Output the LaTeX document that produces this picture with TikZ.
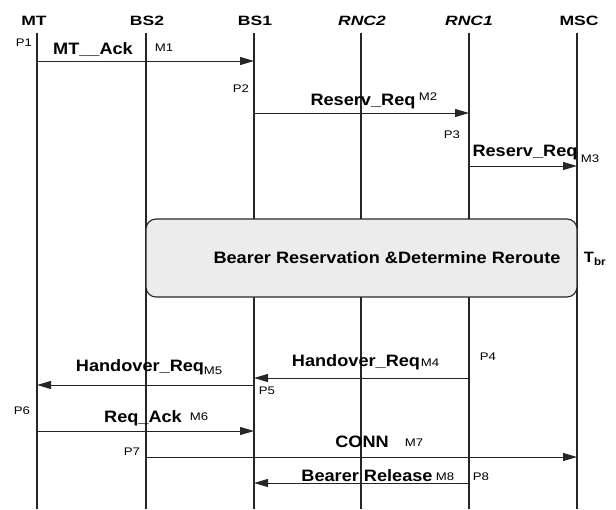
\documentclass[tikz,border=0pt]{standalone}
\usepackage{fontspec}
\setmainfont{Liberation Sans}
\newfontfamily\lblf{Liberation Sans}[FakeStretch=1.1]
\newfontfamily\hdrf{Liberation Sans}[FakeStretch=1.3]
\newfontfamily\smf{Liberation Sans}[FakeStretch=1.2]
\usetikzlibrary{arrows.meta}
\begin{document}
\begin{tikzpicture}[x=1pt,y=-1pt,
  hdr/.style={font=\hdrf\bfseries\fontsize{13.5}{15}\selectfont, inner sep=0pt},
  hdri/.style={font=\hdrf\bfseries\itshape\fontsize{13.5}{15}\selectfont, inner sep=0pt},
  lbl/.style={font=\lblf\bfseries\fontsize{16.5}{18}\selectfont, inner sep=0pt},
  sm/.style={font=\smf\fontsize{11}{13}\selectfont, inner sep=0pt},
  life/.style={line width=1.3pt, black!85},
  msg/.style={line width=1pt, black!85, -{Triangle[length=14pt,width=8pt]}},
  boxst/.style={draw=black!85, line width=1.1pt, fill=gray!15, rounded corners=10pt, inner sep=0pt}
]
\useasboundingbox (0,0) rectangle (616,509);
% headers
\node[hdr]  (hMT)   at (34,21)  {MT};
\node[hdr]  (hBS2)  at (147,21) {BS2};
\node[hdr]  (hBS1)  at (255,21) {BS1};
\node[hdri] (hRNC2) at (362,21) {RNC2};
\node[hdri] (hRNC1) at (469,21) {RNC1};
\node[hdr]  (hMSC)  at (579,21) {MSC};
% lifelines
\foreach \n/\x in {mt/37, bstwo/146, bsone/254, rnctwo/361, rncone/469, msc/577}{
  \coordinate (\n T) at (\x,33);
  \coordinate (\n B) at (\x,509);
  \draw[life] (\n T) -- (\n B);
}
% message end points
\coordinate (m1s) at (37,61);   \coordinate (m1e) at (254,61);
\coordinate (m2s) at (254,113); \coordinate (m2e) at (469,113);
\coordinate (m3s) at (469,166); \coordinate (m3e) at (577,166);
\coordinate (m4s) at (469,378); \coordinate (m4e) at (254,378);
\coordinate (m5s) at (254,385); \coordinate (m5e) at (37,385);
\coordinate (m6s) at (37,431);  \coordinate (m6e) at (254,431);
\coordinate (m7s) at (146,457); \coordinate (m7e) at (577,457);
\coordinate (m8s) at (469,483); \coordinate (m8e) at (254,483);
\draw[msg] (m1s) -- (m1e);
\draw[msg] (m2s) -- (m2e);
\draw[msg] (m3s) -- (m3e);
\draw[msg] (m4s) -- (m4e);
\draw[msg] (m5s) -- (m5e);
\draw[msg] (m6s) -- (m6e);
\draw[msg] (m7s) -- (m7e);
\draw[msg] (m8s) -- (m8e);
% process box
\node[boxst, minimum width=431pt, minimum height=78pt] (brbox) at (361.5,258) {};
\node[lbl] (brtext) at (387,258) {Bearer Reservation \&Determine Reroute};
\node[inner sep=0pt, font=\lblf\bfseries\fontsize{15}{17}\selectfont] (tbr) at (595,259) {T\textsubscript{br}};
% labels
\node[sm]  (p1) at (24,43) {P1};
\node[lbl] (l1) at (93,50) {MT\_\_Ack};
\node[sm]  (n1) at (164,48) {M1};
\node[sm]  (p2) at (241,89) {P2};
\node[lbl] (l2) at (363,102) {Reserv\_Req};
\node[sm]  (n2) at (428,97) {M2};
\node[sm]  (p3) at (452,135) {P3};
\node[lbl] (l3) at (525,153) {Reserv\_Req};
\node[sm]  (n3) at (590,159) {M3};
\node[sm]  (p4) at (488,357) {P4};
\node[lbl] (l4) at (356,362) {Handover\_Req};
\node[sm]  (n4) at (430,363) {M4};
\node[lbl] (l5) at (140,367) {Handover\_Req};
\node[sm]  (n5) at (213,371) {M5};
\node[sm]  (p5) at (267,391) {P5};
\node[sm]  (p6) at (22,411) {P6};
\node[lbl] (l6) at (143,418) {Req\_Ack};
\node[sm]  (n6) at (199,417) {M6};
\node[sm]  (p7) at (132,452) {P7};
\node[lbl] (l7) at (362,442) {CONN};
\node[sm]  (n7) at (414,443) {M7};
\node[lbl] (l8) at (367,476) {Bearer Release};
\node[sm]  (n8) at (445,477) {M8};
\node[sm]  (p8) at (481,477) {P8};
\end{tikzpicture}
\end{document}
